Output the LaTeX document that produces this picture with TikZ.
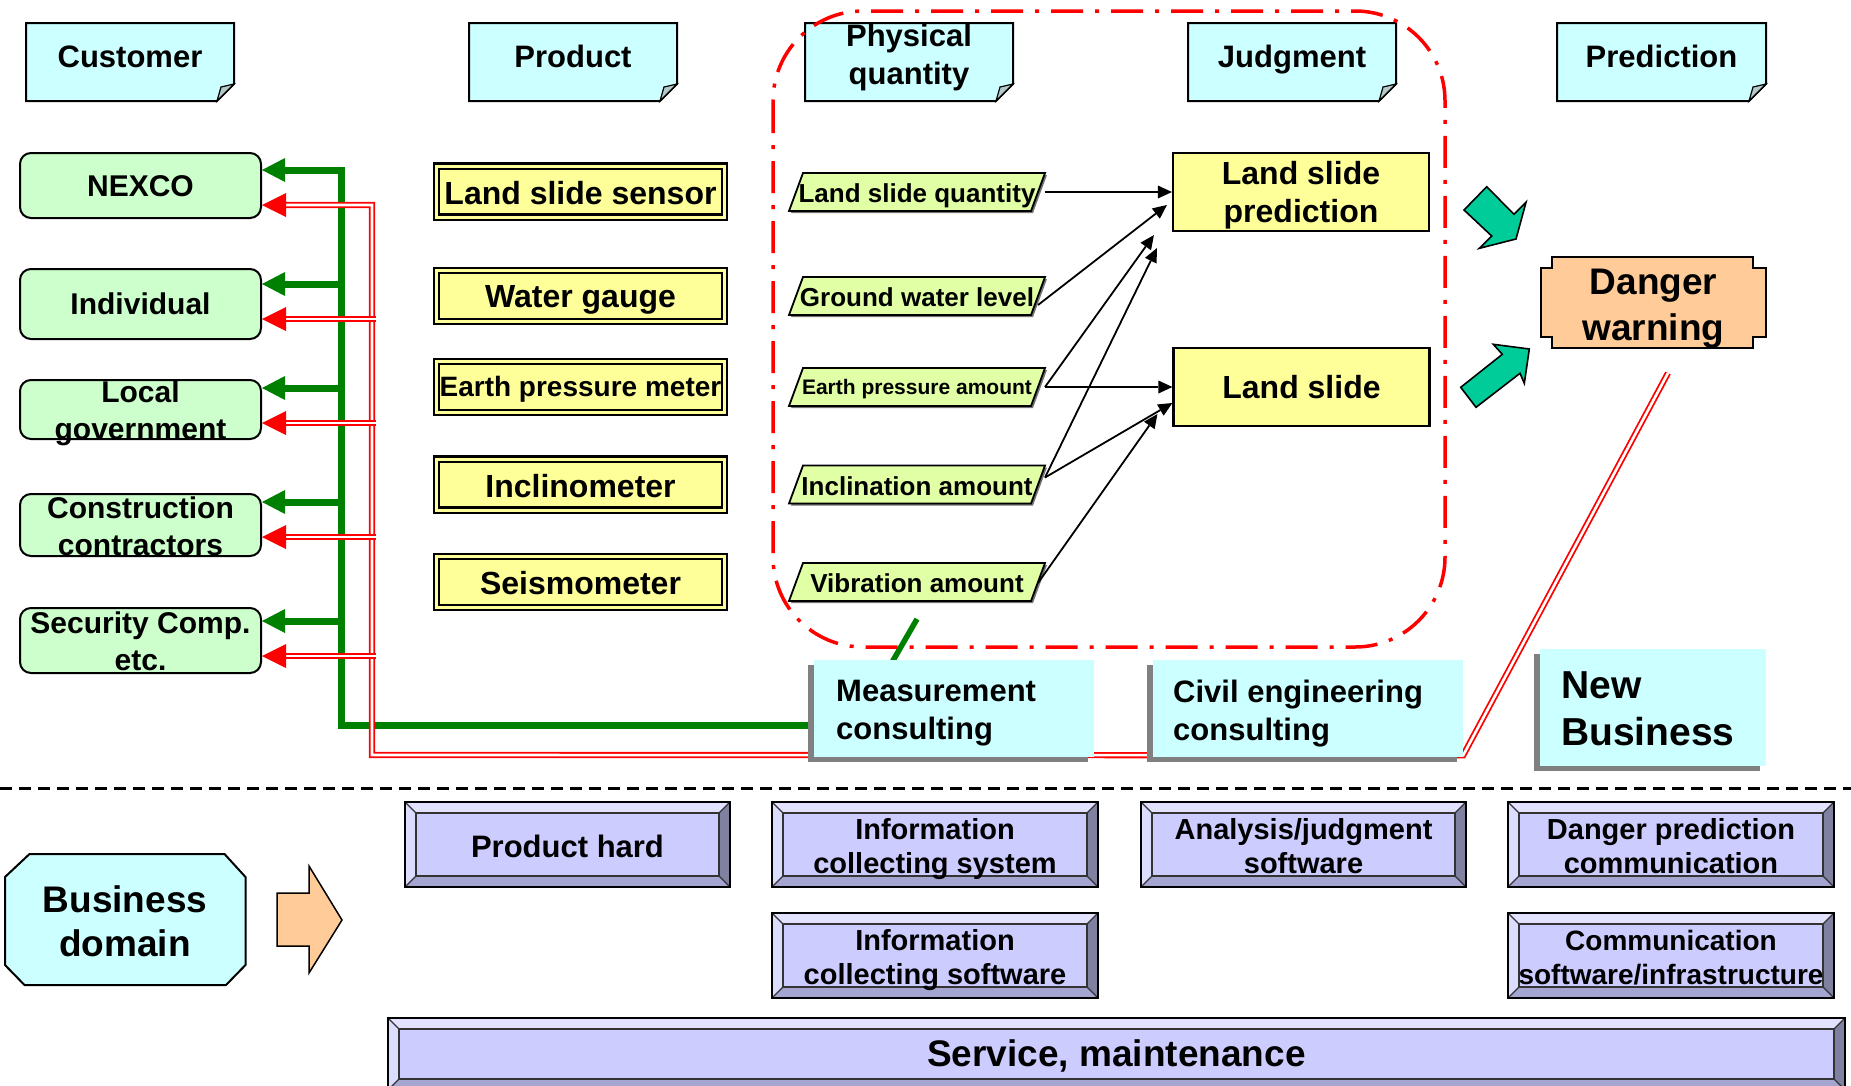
\documentclass[tikz,border=0pt]{standalone}
\usepackage{fontspec}
\setmainfont{Liberation Sans}
\usetikzlibrary{arrows.meta,shadows}
\pgfdeclarelayer{back}
\pgfdeclarelayer{bg}
\pgfsetlayers{back,bg,main}

\definecolor{notecyan}{RGB}{204,255,255}
\definecolor{custgreen}{RGB}{204,255,204}
\definecolor{prodyellow}{RGB}{255,255,153}
\definecolor{pqgreen}{RGB}{225,255,165}
\definecolor{arrgreen}{RGB}{0,128,0}
\definecolor{tealarr}{RGB}{0,204,153}
\definecolor{peach}{RGB}{255,204,153}
\definecolor{lav}{RGB}{204,204,255}
\definecolor{lavtop}{RGB}{226,226,255}
\definecolor{lavleft}{RGB}{220,220,255}
\definecolor{lavright}{RGB}{128,128,160}
\definecolor{lavbot}{RGB}{165,165,210}
\definecolor{foldgray}{RGB}{180,200,200}

\newcommand{\fsz}[2]{\fontsize{#1}{#2}\selectfont\bfseries}

% header note: name, x1, y1, x2, y2, text
\newcommand{\notebox}[6]{%
  \filldraw[notebg] (#2,#3) -- (#4,#3) -- (#4,#5-17) -- (#4-17,#5) -- (#2,#5) -- cycle;
  \filldraw[notefold] (#4,#5-17) -- (#4-17,#5) -- (#4-13,#5-14) -- cycle;
  \node[hdr, anchor=base] (#1) at ({(#2+#4)/2},67) {#6};}

% parallelogram: name, y centre, font, text, text offset
\newcommand{\pqbox}[5]{%
  \fill[black!55] (791,#2+21) -- (805,#2-17) -- (1047,#2-17) -- (1033,#2+21) -- cycle;
  \filldraw[pqshape] (789,#2+19) -- (803,#2-19) -- (1045,#2-19) -- (1031,#2+19) -- cycle;
  \node[pqtxt, font=#3] (#1) at (917,#2+#5) {#4};
  \coordinate (#1r) at (1038,#2);}

% bevel box: name, x1, y1, x2, y2, font, text, text offset
\newcommand{\bevelbox}[8]{%
  \fill[lavtop] (#2,#3) -- (#4,#3) -- (#4-11,#3+11) -- (#2+11,#3+11) -- cycle;
  \fill[lavleft] (#2,#3) -- (#2+11,#3+11) -- (#2+11,#5-11) -- (#2,#5) -- cycle;
  \fill[lavright] (#4,#3) -- (#4,#5) -- (#4-11,#5-11) -- (#4-11,#3+11) -- cycle;
  \fill[lavbot] (#2,#5) -- (#4,#5) -- (#4-11,#5-11) -- (#2+11,#5-11) -- cycle;
  \draw[bevthin] (#2,#3) -- (#2+11,#3+11) (#4,#3) -- (#4-11,#3+11) (#2,#5) -- (#2+11,#5-11) (#4,#5) -- (#4-11,#5-11);
  \draw[bevthin, fill=lav] (#2+11,#3+11) rectangle (#4-11,#5-11);
  \draw[bevouter] (#2,#3) rectangle (#4,#5);
  \node[txt, font=#6] (#1) at ({(#2+#4)/2},{(#3+#5)/2+#8}) {#7};}

\begin{document}
\begin{tikzpicture}[
  x=1pt, y=-1pt,
  txt/.style={inner sep=0pt, align=center, text=black},
  hdr/.style={txt, font=\fsz{31}{38}},
  notebg/.style={fill=notecyan, draw=black, line width=2pt, line join=miter},
  notefold/.style={fill=foldgray, draw=black, line width=1.2pt},
  custbox/.style={draw=black, line width=2pt, fill=custgreen, rounded corners=11pt, minimum width=241pt, inner sep=0pt},
  custtxt/.style={txt, font=\fsz{30}{37}},
  prodbox/.style={draw=black, line width=2.2pt, double=prodyellow, double distance=3pt, fill=prodyellow, minimum width=288pt, minimum height=51pt, inner sep=0pt},
  prodtxt/.style={txt, font=\fsz{32}{38}},
  pqshape/.style={draw=black, line width=1.8pt, fill=pqgreen},
  pqtxt/.style={txt, font=\fsz{26}{30}},
  jbox/.style={draw=black, line width=2.2pt, fill=prodyellow, minimum width=256pt, minimum height=78pt, inner sep=0pt},
  jtxt/.style={txt, font=\fsz{32}{38}},
  barr/.style={draw=black, line width=1.8pt, -{Triangle[length=14pt,width=13pt,line width=0pt]}},
  gline/.style={draw=arrgreen, line width=7pt, line join=miter},
  gtip/.style={-{Triangle[length=23pt,width=24pt,line width=0pt]}},
  rdbl/.style={draw=red, double=white, line width=1.8pt, double distance=2.6pt, line join=miter},
  rtip/.style={draw=red, line width=0.5pt, -{Triangle[length=24pt,width=24pt,line width=0pt]}},
  regionline/.style={draw=red, line width=3.5pt, dash pattern=on 32pt off 12pt on 4pt off 12pt, rounded corners=90pt},
  tealshape/.style={fill=tealarr, draw=black, line width=1.6pt, line join=miter},
  cons/.style={fill=notecyan, draw=none, inner ysep=0pt, minimum height=97pt},
  constxt/.style={txt, align=left, font=\fsz{31}{38}},
  consshadow/.style={fill=black!50},
  bevthin/.style={draw=black!80, line width=1.2pt},
  bevouter/.style={draw=black, line width=2.5pt}
]
\useasboundingbox (0,0) rectangle (1851,1085);
\begin{pgfonlayer}{back}
\fill[white] (0,0) rectangle (1851,1085);
\end{pgfonlayer}

% ---------- headers
\notebox{hcust}{26}{23}{234}{101}{Customer}
\notebox{hprod}{469}{23}{677}{101}{Product}
\filldraw[notebg] (805,23) -- (1013,23) -- (1013,84) -- (996,101) -- (805,101) -- cycle;
\filldraw[notefold] (1013,84) -- (996,101) -- (1000,87) -- cycle;
\node[hdr] (hphys) at (909,57) {Physical\\quantity};
\notebox{hjudg}{1188}{23}{1396}{101}{Judgment}
\notebox{hpred}{1557}{23}{1766}{101}{Prediction}

% ---------- dash-dot region
\draw[regionline] (773,11) rectangle (1445,647);

% ---------- customers
\node[custbox, minimum height=65pt, label={[custtxt, yshift=-1pt]center:NEXCO}] (nexco) at (140.5,185.5) {};
\node[custbox, minimum height=70pt, label={[custtxt]center:Individual}] (indiv) at (140.5,304) {};
\node[custbox, minimum height=59pt, label={[custtxt, yshift=-3.5pt]center:Local\\government}] (localgov) at (140.5,409.5) {};
\node[custbox, minimum height=62pt, label={[custtxt, yshift=-1.5pt]center:Construction\\contractors}] (constr) at (140.5,525) {};
\node[custbox, minimum height=65pt, label={[custtxt, yshift=-1pt]center:Security Comp.\\etc.}] (secur) at (140.5,640.5) {};

% ---------- products
\node[prodbox, label={[prodtxt, yshift=-1.5pt]center:Land slide sensor}] (p1) at (580.5,191.5) {};
\node[prodbox, label={[prodtxt, yshift=-4pt]center:Water gauge}] (p2) at (580.5,296) {};
\node[prodbox, label={[prodtxt, yshift=-2pt, font=\fsz{28}{34}]center:Earth pressure meter}] (p3) at (580.5,387) {};
\node[prodbox, label={[prodtxt, yshift=-1.5pt]center:Inclinometer}] (p4) at (580.5,484.5) {};
\node[prodbox, label={[prodtxt, yshift=-1.5pt]center:Seismometer}] (p5) at (580.5,582) {};

% ---------- physical quantities
\pqbox{q1}{192}{\fsz{26}{30}}{Land slide quantity}{3.5}
\pqbox{q2}{296}{\fsz{26}{30}}{Ground water level}{1.5}
\pqbox{q3}{387}{\fsz{21}{25}}{Earth pressure amount}{2}
\pqbox{q4}{484.5}{\fsz{26}{30}}{Inclination amount}{1.5}
\pqbox{q5}{582}{\fsz{26}{30}}{Vibration amount}{1.5}

% ---------- judgment
\node[jbox, label={[jtxt, yshift=-3.5pt]center:Land slide\\prediction}] (lsp) at (1301,192) {};
\node[jbox, label={[jtxt]center:Land slide}] (lsl) at (1301.5,387) {};

\coordinate (lspa) at ([xshift=-5pt,yshift=-13pt]lsp.west);
\coordinate (lspb) at ([xshift=-18pt,yshift=-3pt]lsp.south west);
\coordinate (lspc) at ([xshift=-15pt,yshift=-16pt]lsp.south west);
\coordinate (lsla) at ([yshift=-16pt]lsl.west);
\coordinate (lslb) at ([xshift=-15pt,yshift=-27pt]lsl.west);

\draw[barr] ([xshift=7pt]q1r) -- (lsp.west);
\draw[barr] ([yshift=-9pt]q2r) -- (lspa);
\draw[barr] ([xshift=7pt]q3r) -- (lsl.west);
\draw[barr] ([xshift=7pt]q3r) -- (lspb);
\draw[barr] ([xshift=7pt,yshift=7pt]q4r) -- (lspc);
\draw[barr] ([xshift=7pt,yshift=7pt]q4r) -- (lsla);
\draw[barr] ([yshift=-1pt]q5r) -- (lslb);

% ---------- prediction side
\filldraw[tealshape] (1464,210) -- (1486.7,186.7) -- (1514,214.3) -- (1526,202.3) -- (1516,239) -- (1479.3,248.3) -- (1491.7,236) -- cycle;
\filldraw[tealshape] (1460.7,387.3) -- (1476,407.3) -- (1520,373.3) -- (1524.3,383.3) -- (1529.3,349) -- (1493.3,344.3) -- (1502.3,354.3) -- cycle;

\filldraw[fill=peach, draw=black, line width=2pt] (1552,257) -- (1753,257) -- (1753,268) -- (1766,268) -- (1766,337) -- (1753,337) -- (1753,348) -- (1552,348) -- (1552,337) -- (1541,337) -- (1541,268) -- (1552,268) -- cycle;
\node[txt, font=\fsz{37}{46}] (dw) at (1653.5,309) {Danger\\warning};
\coordinate (dwtail) at (1668,373);

% ---------- consulting boxes (shadow offset left-down)
\fill[consshadow] (808,665) rectangle (1088,762);
\node[cons, minimum width=280pt] (mc) at (954,708.5) {};
\node[constxt, anchor=west] (mctext) at (836,713.5) {Measurement\\consulting};
\fill[consshadow] (1147,665) rectangle (1457,762);
\node[cons, minimum width=310pt] (ce) at (1308,708.5) {};
\node[constxt, anchor=west] (cetext) at (1173,713.5) {Civil engineering\\consulting};
\fill[consshadow] (1534,654) rectangle (1760,771);
\node[cons, minimum width=226pt, minimum height=117pt] (nb) at (1653,707.5) {};
\node[constxt, anchor=west, font=\fsz{39}{47}] (nbtext) at (1561,709) {New\\Business};

% ---------- connectors on background layer
\begin{pgfonlayer}{bg}
  \coordinate (gbot) at (341,725);
  \coordinate (gt1) at (341,170);
  \coordinate (gt2) at (341,284);
  \coordinate (gt3) at (341,388);
  \coordinate (gt4) at (341,502);
  \coordinate (gt5) at (341,621);
  \draw[gline, gtip] (mc.west |- gbot) -- (gbot) -- (gt1) -- (gt1 -| nexco.east);
  \draw[gline, gtip] (gt2) -- (gt2 -| indiv.east);
  \draw[gline, gtip] (gt3) -- (gt3 -| localgov.east);
  \draw[gline, gtip] (gt4) -- (gt4 -| constr.east);
  \draw[gline, gtip] (gt5) -- (gt5 -| secur.east);
  \coordinate (gd1) at (891,664);
  \coordinate (gd2) at (917,619);
  \draw[gline, line width=5.5pt] (gd1) -- (gd2);

  \coordinate (rbot) at (372,755);
  \coordinate (rt1) at (372,205);
  \coordinate (rt2) at (376,319);
  \coordinate (rt3) at (376,423);
  \coordinate (rt4) at (376,537);
  \coordinate (rt5) at (376,656);
  \draw[rdbl] (dwtail) -- ([yshift=2pt]ce.south east) -- (rbot) -- (rt1) -- ([xshift=24pt]rt1 -| nexco.east);
  \draw[rdbl] (rt2) -- ([xshift=24pt]rt2 -| indiv.east);
  \draw[rdbl] (rt3) -- ([xshift=24pt]rt3 -| localgov.east);
  \draw[rdbl] (rt4) -- ([xshift=24pt]rt4 -| constr.east);
  \draw[rdbl] (rt5) -- ([xshift=24pt]rt5 -| secur.east);
  \draw[rtip] ([xshift=24pt]rt1 -| nexco.east) -- (rt1 -| nexco.east);
  \draw[rtip] ([xshift=24pt]rt2 -| indiv.east) -- (rt2 -| indiv.east);
  \draw[rtip] ([xshift=24pt]rt3 -| localgov.east) -- (rt3 -| localgov.east);
  \draw[rtip] ([xshift=24pt]rt4 -| constr.east) -- (rt4 -| constr.east);
  \draw[rtip] ([xshift=24pt]rt5 -| secur.east) -- (rt5 -| secur.east);
\end{pgfonlayer}

% ---------- separator
\draw[black, line width=2.5pt, dash pattern=on 12pt off 7pt] (0,788.6) -- (1851,788.6);

% ---------- business domain
\filldraw[fill=notecyan, draw=black, line width=2pt] (29.5,854) -- (224.5,854) -- (245.5,877) -- (245.5,965) -- (226,985) -- (24.5,985) -- (5,965) -- (5,877) -- cycle;
\node[txt, font=\fsz{37}{44}] (bd) at (125,921) {Business\\domain};
\filldraw[fill=peach, draw=black, line width=1.5pt] (277,893) -- (309,893) -- (309,866) -- (342,920) -- (309,973) -- (309,946) -- (277,946) -- cycle;

% ---------- bottom bevel boxes
\bevelbox{bph}{405}{802}{730}{887}{\fsz{31}{36}}{Product hard}{2}
\bevelbox{bics}{772}{802}{1098}{887}{\fsz{29}{34}}{Information\\collecting system}{4.5}
\bevelbox{bicw}{772}{913}{1098}{998}{\fsz{29}{34}}{Information\\collecting software}{4.5}
\bevelbox{bajs}{1141}{802}{1466}{887}{\fsz{29}{34}}{Analysis/judgment\\software}{2}
\bevelbox{bdpc}{1508}{802}{1834}{887}{\fsz{29}{34}}{Danger prediction\\communication}{2}
\bevelbox{bcsi}{1508}{913}{1834}{998}{\fsz{28}{34}}{Communication\\software/infrastructure}{2}
\bevelbox{bsm}{388}{1018}{1845}{1090}{\fsz{37}{44}}{Service, maintenance}{2}
\end{tikzpicture}
\end{document}
